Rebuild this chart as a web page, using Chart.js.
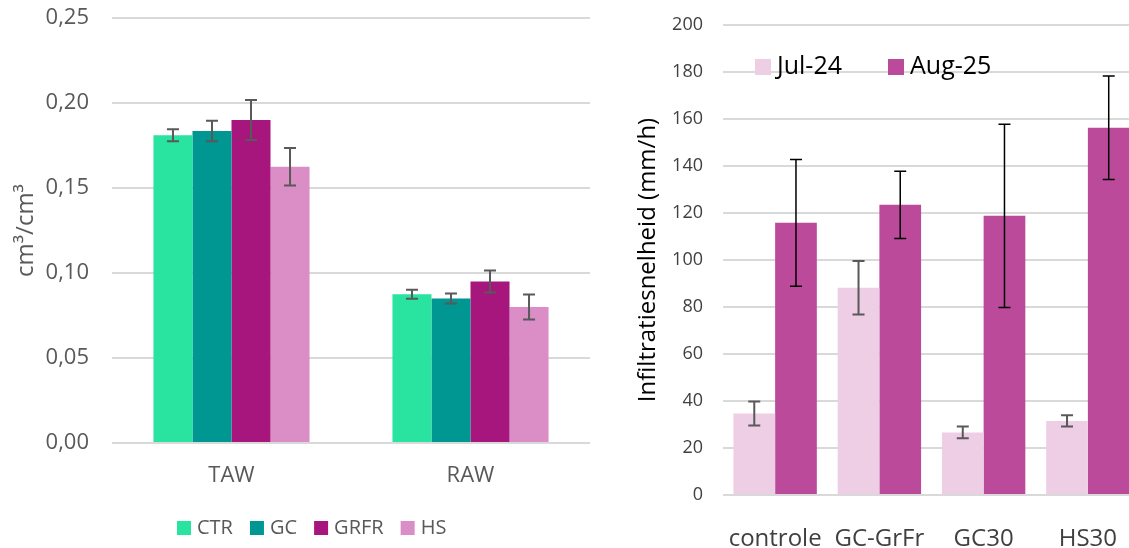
<!DOCTYPE html>
<html>
<head>
<meta charset="utf-8">
<script src="https://cdn.jsdelivr.net/npm/chart.js@4.4.1/dist/chart.umd.min.js"></script>
<style>
  body { margin: 0; width: 1129px; height: 548px; overflow: hidden; background: #fff; position: relative; }
  #links { position: absolute; left: 0; top: 0; }
  #rechts { position: absolute; left: 615px; top: 0; }
</style>
</head>
<body>
<canvas id="links" width="615" height="548"></canvas>
<canvas id="rechts" width="525" height="548"></canvas>
<script>
// Linker grafiek: TAW en RAW per behandeling
const groepen = ['TAW', 'RAW'];
const ctr = [0.181, 0.0875];
const gc = [0.1835, 0.085];
const grfr = [0.190, 0.095];
const hs = [0.1625, 0.080];
const ctrErr = [0.0035, 0.0027];
const gcErr = [0.006, 0.003];
const grfrErr = [0.0118, 0.0064];
const hsErr = [0.011, 0.0073];

// Rechter grafiek: infiltratiesnelheid
const behandelingen = ['controle', 'GC-GrFr', 'GC30', 'HS30'];
const jul24 = [34.7, 88.2, 26.6, 31.5];
const aug25 = [115.8, 123.5, 118.8, 156.3];
const jul24Err = [5.1, 11.4, 2.5, 2.4];
const aug25Err = [27, 14.3, 39, 22];

const lettertype = "'Open Sans', sans-serif";
Chart.defaults.font.family = lettertype;

// Foutbalken tekenen met de y-schaal van de grafiek
const errorBars = {
    id: 'errorBars',
    afterDatasetsDraw(chart) {
        const ctx = chart.ctx;
        const y = chart.scales.y;
        chart.data.datasets.forEach((ds, i) => {
            const meta = chart.getDatasetMeta(i);
            if (!ds.errors || meta.hidden) return;
            ctx.save();
            ctx.strokeStyle = ds.errorColor;
            ctx.lineWidth = ds.errorWidth;
            meta.data.forEach((bar, j) => {
                const top = y.getPixelForValue(ds.data[j] + ds.errors[j]);
                const bot = y.getPixelForValue(ds.data[j] - ds.errors[j]);
                const half = 6;
                ctx.beginPath();
                ctx.moveTo(bar.x, top);
                ctx.lineTo(bar.x, bot);
                ctx.moveTo(bar.x - half, top);
                ctx.lineTo(bar.x + half, top);
                ctx.moveTo(bar.x - half, bot);
                ctx.lineTo(bar.x + half, bot);
                ctx.stroke();
            });
            ctx.restore();
        });
    }
};

// Legenda op een vaste plek t.o.v. het plotgebied (zoals in Excel)
const legendaVrij = {
    id: 'legendaVrij',
    afterDraw(chart, args, opts) {
        const { ctx, chartArea } = chart;
        ctx.save();
        ctx.font = opts.size + 'px ' + lettertype;
        ctx.textBaseline = 'middle';
        let x = chartArea.left + opts.dx;
        const y = chartArea.top + opts.dy;
        chart.data.datasets.forEach(ds => {
            ctx.fillStyle = ds.backgroundColor;
            ctx.fillRect(x, y, opts.box, opts.box);
            ctx.fillStyle = opts.color;
            ctx.fillText(ds.label, x + opts.textGap, y + opts.box / 2);
            x += opts.textGap + ctx.measureText(ds.label).width + opts.gap;
        });
        ctx.restore();
    }
};

const grijs = '#595959';

const dataLinks = {
    labels: groepen,
    datasets: [
        { label: 'CTR', data: ctr, errors: ctrErr, backgroundColor: '#29E3A1' },
        { label: 'GC', data: gc, errors: gcErr, backgroundColor: '#009692' },
        { label: 'GRFR', data: grfr, errors: grfrErr, backgroundColor: '#A6167C' },
        { label: 'HS', data: hs, errors: hsErr, backgroundColor: '#DA8EC5' }
    ].map(ds => Object.assign(ds, {
        errorColor: grijs, errorWidth: 2,
        categoryPercentage: 0.653, barPercentage: 1
    }))
};

const configLinks = {
    type: 'bar',
    data: dataLinks,
    options: {
        responsive: false,
        animation: false,
        layout: { padding: { top: 18, bottom: 0, right: 25 } },
        plugins: {
            legend: { display: false },
            tooltip: { enabled: false },
            legendaVrij: { dx: 65, dy: 503, box: 14, textGap: 20, gap: 17, size: 20, color: grijs }
        },
        scales: {
            x: {
                grid: { display: false },
                border: { display: false },
                ticks: { color: grijs, font: { size: 22 }, padding: 12 },
                afterFit: s => { s.height = 105; }
            },
            y: {
                min: 0,
                max: 0.25,
                ticks: {
                    stepSize: 0.05,
                    color: grijs,
                    font: { size: 22 },
                    padding: 23,
                    callback: v => v.toFixed(2).replace('.', ',')
                },
                grid: { color: '#D9D9D9', lineWidth: 2, drawTicks: false },
                border: { display: false },
                title: {
                    display: true,
                    text: 'cm³/cm³',
                    color: grijs,
                    font: { size: 24 },
                    padding: { top: 12, bottom: 0 }
                },
                afterFit: s => { s.width = 112; s.paddingTop = 0; s.paddingBottom = 0; }
            }
        }
    },
    plugins: [errorBars, legendaVrij]
};

const dataRechts = {
    labels: behandelingen,
    datasets: [
        { label: 'Jul-24', data: jul24, errors: jul24Err, backgroundColor: '#EDCEE4', errorColor: grijs, errorWidth: 2 },
        { label: 'Aug-25', data: aug25, errors: aug25Err, backgroundColor: '#BB4A9B', errorColor: '#000000', errorWidth: 1.5 }
    ].map(ds => Object.assign(ds, { categoryPercentage: 0.8, barPercentage: 1 }))
};

const configRechts = {
    type: 'bar',
    data: dataRechts,
    options: {
        responsive: false,
        animation: false,
        layout: { padding: { top: 25, bottom: 0, right: 0 } },
        plugins: {
            legend: { display: false },
            tooltip: { enabled: false },
            legendaVrij: { dx: 32, dy: 34, box: 16, textGap: 22, gap: 46, size: 25, color: '#000000' }
        },
        scales: {
            x: {
                grid: { display: false },
                border: { display: false },
                ticks: { color: '#404040', font: { size: 24 }, padding: 22 },
                afterFit: s => { s.height = 53; }
            },
            y: {
                min: 0,
                max: 200,
                ticks: { stepSize: 20, color: '#404040', font: { size: 18 }, padding: 20 },
                grid: { color: '#D9D9D9', lineWidth: 2, drawTicks: false },
                border: { display: false },
                title: {
                    display: true,
                    text: 'Infiltratiesnelheid (mm/h)',
                    color: '#000000',
                    font: { size: 24 },
                    padding: { top: 19, bottom: 0 }
                },
                afterFit: s => { s.width = 108; s.paddingTop = 0; s.paddingBottom = 0; }
            }
        }
    },
    plugins: [errorBars, legendaVrij]
};

new Chart(document.getElementById('links'), configLinks);
new Chart(document.getElementById('rechts'), configRechts);
</script>
</body>
</html>
